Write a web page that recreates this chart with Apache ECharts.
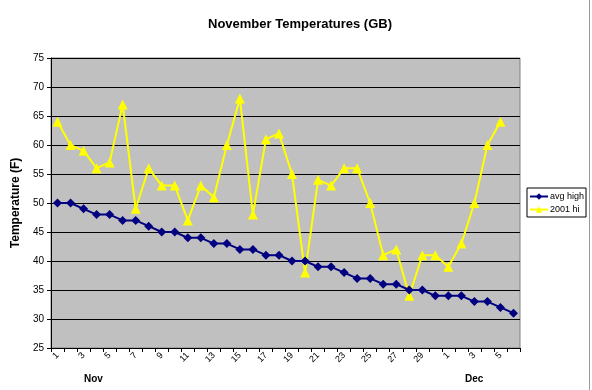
<!DOCTYPE html>
<html><head><meta charset="utf-8">
<script src="https://cdn.jsdelivr.net/npm/echarts@6/dist/echarts.min.js"></script>
<style>html,body{margin:0;padding:0;background:#fff}#c{width:592px;height:390px}</style>
</head><body><div id="c"></div>
<script>
var days = ['1','2','3','4','5','6','7','8','9','10','11','12','13','14','15','16','17','18','19','20','21','22','23','24','25','26','27','28','29','30','1','2','3','4','5','6'];
var avgHigh = [50,50,49,48,48,47,47,46,45,45,44,44,43,43,42,42,41,41,40,40,39,39,38,37,37,36,36,35,35,34,34,34,33,33,32,31];
var hi2001 = [64,60,59,56,57,67,49,56,53,53,47,53,51,60,68,48,61,62,55,38,54,53,56,56,50,41,42,34,41,41,39,43,50,60,64,null];
var yTicks = {min:25, max:75, interval:5};
var monthLabels = ['Nov','Dec'];

var chart = echarts.init(document.getElementById('c'), null, {renderer:'canvas'});
var F = 'Arial, "Liberation Sans", sans-serif';
chart.setOption({
  animation:false,
  backgroundColor:'#fff',
  title:{text:'November Temperatures (GB)', left:295, top:13, textAlign:'center',
    textStyle:{fontFamily:F, fontWeight:'bold', fontSize:13, color:'#000'}},
  grid:{left:51, right:72, top:58, bottom:42, show:true, backgroundColor:'#c0c0c0', borderColor:'#808080', borderWidth:1},
  legend:{orient:'vertical', left:527, top:188, padding:[4,2,3,2], itemGap:4,
    backgroundColor:'#fff', borderColor:'#000', borderWidth:1, borderRadius:0,
    itemWidth:18, itemHeight:8,
    textStyle:{fontFamily:F, fontSize:9, color:'#000', padding:[0,0,0,-3]},
    data:['avg high','2001 hi']},
  xAxis:{type:'category', data:days, boundaryGap:true,
    axisLine:{lineStyle:{color:'#000', width:1}},
    axisTick:{show:true, interval:0, length:4, lineStyle:{color:'#000'}},
    axisLabel:{interval:1, rotate:45, fontFamily:F, fontSize:9, color:'#000', margin:6},
    splitLine:{show:false}},
  yAxis:{type:'value', min:yTicks.min, max:yTicks.max, interval:yTicks.interval,
    name:'Temperature (F)', nameLocation:'middle', nameGap:29, nameRotate:90,
    nameTextStyle:{fontFamily:F, fontWeight:'bold', fontSize:12, color:'#000'},
    axisLine:{show:true, lineStyle:{color:'#000'}},
    axisTick:{show:true, length:4, lineStyle:{color:'#000'}},
    axisLabel:{fontFamily:F, fontSize:10, color:'#000', margin:7},
    splitLine:{show:true, lineStyle:{color:'#000', width:1}}},
  graphic:[
    {type:'text', left:84, top:374, style:{text:monthLabels[0], font:'bold 10px Arial, "Liberation Sans", sans-serif', fill:'#000'}},
    {type:'text', left:465, top:374, style:{text:monthLabels[1], font:'bold 10px Arial, "Liberation Sans", sans-serif', fill:'#000'}},
    {type:'line', shape:{x1:589.5, y1:0, x2:589.5, y2:390}, style:{stroke:'#999', lineWidth:1}}
  ],
  series:[
    {name:'avg high', type:'line', data:avgHigh, color:'#000080', symbol:'diamond', symbolSize:9, showAllSymbol:true,
      lineStyle:{width:2, color:'#000080'}, itemStyle:{color:'#000080'}, z:3},
    {name:'2001 hi', type:'line', data:hi2001, color:'#ffff00', symbol:'triangle', symbolSize:10, showAllSymbol:true,
      lineStyle:{width:2, color:'#ffff00'}, itemStyle:{color:'#ffff00'}, z:2}
  ]
});
</script></body></html>
